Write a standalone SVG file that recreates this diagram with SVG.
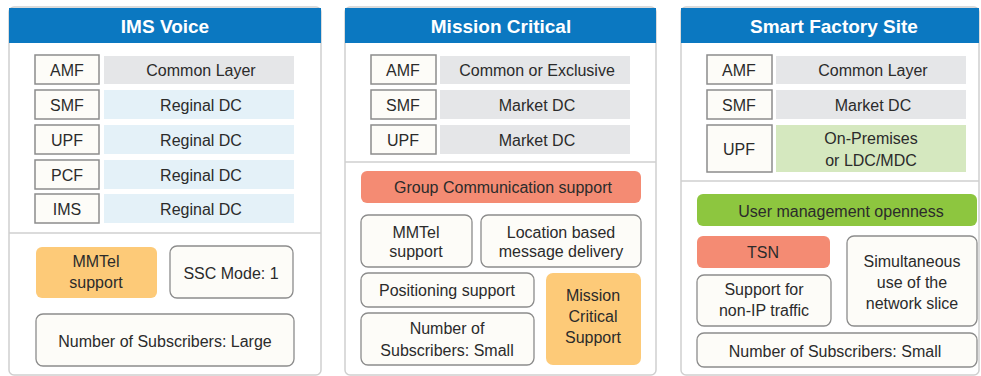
<svg xmlns="http://www.w3.org/2000/svg" width="981" height="376" viewBox="0 0 981 376">
<style>
text{font-family:"Liberation Sans",Arial,sans-serif;font-size:16px;fill:#2b2b2b;text-anchor:middle}
.title{font-size:19px;font-weight:bold;fill:#ffffff}
.panel{fill:#ffffff;stroke:#cfcfcf;stroke-width:1.5}
.head{fill:#0b78c1}
.key{fill:#fdfcf8;stroke:#8c8c8c;stroke-width:1.5}
.gray{fill:#e5e6e8}
.lblue{fill:#e4f1f8}
.lgreen{fill:#d5e8bf}
.div{stroke:#cfcfcf;stroke-width:1.5}
.box{fill:#fdfcf8;stroke:#8c8c8c;stroke-width:1.3}
.orange{fill:#fdca78}
.salmon{fill:#f48b73}
.lime{fill:#8dc63f}
</style>

<g id="panel-ims">
<rect class="panel" x="9" y="7" width="312" height="368" rx="5"/>
<rect class="head" x="9" y="8" width="312" height="35"/>
<text class="title" x="165" y="33">IMS Voice</text>
<rect class="key" x="35" y="55" width="64" height="29"/><text x="67" y="76">AMF</text>
<rect class="gray" x="104" y="56" width="190" height="28"/><text x="201" y="76">Common Layer</text>
<rect class="key" x="35" y="90" width="64" height="29"/><text x="67" y="111">SMF</text>
<rect class="lblue" x="104" y="90" width="190" height="29"/><text x="201" y="111">Reginal DC</text>
<rect class="key" x="35" y="125" width="64" height="29"/><text x="67" y="146">UPF</text>
<rect class="lblue" x="104" y="125" width="190" height="29"/><text x="201" y="146">Reginal DC</text>
<rect class="key" x="35" y="160" width="64" height="29"/><text x="67" y="181">PCF</text>
<rect class="lblue" x="104" y="160" width="190" height="29"/><text x="201" y="181">Reginal DC</text>
<rect class="key" x="35" y="194" width="64" height="29"/><text x="67" y="215">IMS</text>
<rect class="lblue" x="104" y="194" width="190" height="29"/><text x="201" y="215">Reginal DC</text>
<line class="div" x1="9" y1="233" x2="321" y2="233"/>
<rect class="orange" x="36" y="247" width="121" height="51" rx="6"/>
<text x="96" y="267">MMTel</text><text x="96" y="288">support</text>
<rect class="box" x="170" y="246" width="123" height="52" rx="7"/>
<text x="231" y="279">SSC Mode: 1</text>
<rect class="box" x="36" y="314" width="258" height="52" rx="7"/>
<text x="165" y="347">Number of Subscribers: Large</text>
</g>

<g id="panel-mc">
<rect class="panel" x="345" y="7" width="311" height="368" rx="5"/>
<rect class="head" x="345" y="8" width="311" height="35"/>
<text class="title" x="501" y="33">Mission Critical</text>
<rect class="key" x="371" y="55" width="65" height="29"/><text x="403" y="76">AMF</text>
<rect class="gray" x="440" y="56" width="190" height="28"/><text x="537" y="76">Common or Exclusive</text>
<rect class="key" x="371" y="90" width="65" height="29"/><text x="403" y="111">SMF</text>
<rect class="gray" x="440" y="90" width="190" height="29"/><text x="537" y="111">Market DC</text>
<rect class="key" x="371" y="125" width="65" height="29"/><text x="403" y="146">UPF</text>
<rect class="gray" x="440" y="125" width="190" height="29"/><text x="537" y="146">Market DC</text>
<line class="div" x1="345" y1="162" x2="656" y2="162"/>
<rect class="salmon" x="361" y="171" width="280" height="32" rx="6"/>
<text x="503" y="193">Group Communication support</text>
<rect class="box" x="361" y="215" width="111" height="52" rx="7"/>
<text x="416" y="238">MMTel</text><text x="416" y="257">support</text>
<rect class="box" x="481" y="215" width="160" height="52" rx="7"/>
<text x="561" y="238">Location based</text><text x="561" y="257">message delivery</text>
<rect class="box" x="361" y="273" width="173" height="34" rx="7"/>
<text x="447" y="296">Positioning support</text>
<rect class="box" x="361" y="313" width="173" height="52" rx="7"/>
<text x="447" y="334">Number of</text><text x="447" y="356">Subscribers: Small</text>
<rect class="orange" x="546" y="273" width="95" height="92" rx="7"/>
<text x="593" y="301">Mission</text><text x="593" y="322">Critical</text><text x="593" y="343">Support</text>
</g>

<g id="panel-sf">
<rect class="panel" x="681" y="7" width="298" height="368" rx="5"/>
<rect class="head" x="681" y="8" width="298" height="35"/>
<text class="title" x="834" y="33">Smart Factory Site</text>
<rect class="key" x="707" y="55" width="65" height="29"/><text x="739" y="76">AMF</text>
<rect class="gray" x="776" y="56" width="190" height="28"/><text x="873" y="76">Common Layer</text>
<rect class="key" x="707" y="90" width="65" height="29"/><text x="739" y="111">SMF</text>
<rect class="gray" x="776" y="90" width="190" height="29"/><text x="873" y="111">Market DC</text>
<rect class="key" x="707" y="125" width="65" height="47"/><text x="739" y="155">UPF</text>
<rect class="lgreen" x="776" y="125" width="190" height="47"/>
<text x="871" y="144">On-Premises</text><text x="871" y="166">or LDC/MDC</text>
<line class="div" x1="681" y1="181" x2="979" y2="181"/>
<rect class="lime" x="697" y="194" width="280" height="32" rx="6"/>
<text x="841" y="217">User management openness</text>
<rect class="salmon" x="697" y="236" width="133" height="32" rx="6"/>
<text x="763" y="258">TSN</text>
<rect class="box" x="697" y="275" width="134" height="51" rx="7"/>
<text x="764" y="295">Support for</text><text x="764" y="316">non-IP traffic</text>
<rect class="box" x="847" y="236" width="130" height="90" rx="7"/>
<text x="912" y="267">Simultaneous</text><text x="912" y="288">use of the</text><text x="912" y="309">network slice</text>
<rect class="box" x="697" y="333" width="280" height="34" rx="7"/>
<text x="835" y="357">Number of Subscribers:  Small</text>
</g>

<g id="connectors"></g>
</svg>
